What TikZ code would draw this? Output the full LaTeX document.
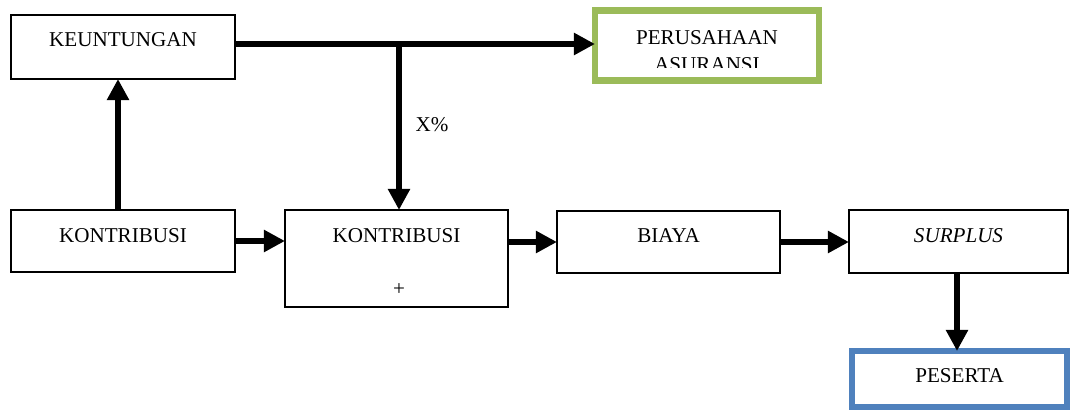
\documentclass[tikz,border=0pt]{standalone}
\usepackage{fontspec}
\setmainfont{Liberation Serif}
\usetikzlibrary{arrows.meta}
\definecolor{olivegreen}{HTML}{9BBB59}
\definecolor{officeblue}{HTML}{4F81BD}
\tikzset{
  box/.style={draw, line width=1.3pt, minimum width=5.6cm, minimum height=1.6cm, inner sep=0pt, outer sep=0pt},
  txt/.style={font=\fontsize{15}{18}\selectfont, inner sep=0pt},
  flow/.style={line width=4.2pt, -{Triangle[length=15pt,width=15pt]}}
}
\begin{document}
\begin{tikzpicture}[x=0.025cm, y=-0.025cm]
\useasboundingbox (0,0) rectangle (1070,413);

% kotak
\node[box] (keu) at (123,47) {};
\node[txt] (keut) at (123,40) {KEUNTUNGAN};
\node[box, draw=olivegreen, line width=4.4pt, minimum height=1.75cm] (peru) at (707,45.5) {};
\node[txt] (perut) at (707,38) {PERUSAHAAN};
\begin{scope}
  \clip (600,50) rectangle (815,68);
  \node[txt] (asur) at (707,65) {ASURANSI};
\end{scope}
\node[box, minimum height=1.55cm] (kon1) at (123,241) {};
\node[txt] (kon1t) at (123,236) {KONTRIBUSI};
\node[box, minimum width=5.575cm, minimum height=2.425cm] (kon2) at (396.5,258.5) {};
\node[txt] (kon2t) at (396.5,236) {KONTRIBUSI};
\node[txt] (plus) at (399,290) {+};
\node[box, minimum width=5.575cm, minimum height=1.55cm] (biaya) at (668.5,242) {};
\node[txt] (biayat) at (668.5,236) {BIAYA};
\node[box, minimum width=5.475cm, minimum height=1.575cm] (surp) at (958.5,241.5) {};
\node[txt] (surpt) at (958.5,236) {\itshape SURPLUS};
\node[box, draw=officeblue, line width=4.4pt, minimum width=5.375cm, minimum height=1.4cm] (pes) at (959.5,379) {};
\node[txt] (pest) at (959.5,376) {PESERTA};

% panah
\coordinate (split) at (399,44);
\draw[flow] (keu.east |- split) -- (peru.west |- split);
\draw[flow] (split) -- (split |- kon2.north);
\node[txt] (xp) at (432,125) {X\%};
\draw[flow] (kon1.north -| 118,0) -- (keu.south -| 118,0);
\draw[flow] (kon1.east) -- (kon2.west |- kon1.east);
\draw[flow] (kon2.east |- biaya.west) -- (biaya.west);
\draw[flow] (biaya.east) -- (surp.west |- biaya.east);
\draw[flow] (surp.south -| 957,0) -- (pes.north -| 957,0);
\end{tikzpicture}
\end{document}
